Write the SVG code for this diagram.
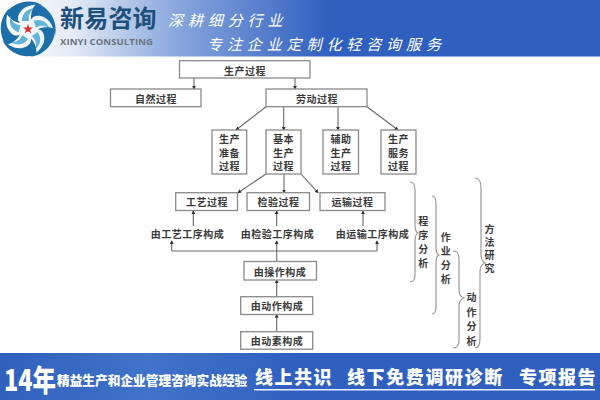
<svg xmlns="http://www.w3.org/2000/svg" xmlns:xlink="http://www.w3.org/1999/xlink" width="600" height="400" viewBox="0 0 600 400">
<style>
text{font-family:"Noto Sans CJK SC","Liberation Sans",sans-serif}
.b{fill:#fff;stroke:#8a8a8a;stroke-width:1.3}
.t{font-size:10px;font-weight:700;fill:#3a3a3a;text-anchor:middle;letter-spacing:.5px;dominant-baseline:central}
.v{font-size:10px;font-weight:700;fill:#3a3a3a;text-anchor:middle;writing-mode:vertical-rl}
.c{fill:none;stroke:#6a6a6a;stroke-width:1.1}
.a{marker-end:url(#ah)}
.br{fill:none;stroke:#9a9a9a;stroke-width:1.2}
.s{font-size:15px;fill:#fff;font-style:italic;letter-spacing:4.900px;dominant-baseline:central}
.f{fill:#fff;font-weight:900;dominant-baseline:central}
</style>
<defs>
<linearGradient id="hd" x1="0" x2="1" y1="0" y2="0"><stop offset="0" stop-color="#fff"/><stop offset=".12" stop-color="#e4ebf6"/><stop offset=".3" stop-color="#86a5dc"/><stop offset=".55" stop-color="#2f5fbf"/><stop offset="1" stop-color="#2f5fbf"/></linearGradient>
<linearGradient id="ft" x1="0" x2="1" y1="0" y2="0"><stop offset="0" stop-color="#3160bd"/><stop offset=".25" stop-color="#4073c9"/><stop offset=".5" stop-color="#2f5fbf"/><stop offset="1" stop-color="#2f5fbf"/></linearGradient>
<marker id="ah" markerWidth="4" markerHeight="4" refX="3.2" refY="2" orient="auto" markerUnits="userSpaceOnUse"><path d="M0,0L4,2L0,4Z" fill="#333"/></marker>
<g id="pt">
<path d="M-22,-16C-14,-27 2,-31 14,-24C4,-25 -5,-23 -9,-15C-11,-11 -10,-8 -8,-6C-14,-7 -19,-11 -22,-16Z" fill="#1c6fa8"/>
<path d="M-6,-8C-6,-15 -2,-20 7,-21C2,-18 0,-14 1,-8Z" fill="#62b3d8"/>
</g>
</defs>
<rect width="600" height="400" fill="#fff"/>
<g id="header">
<rect width="600" height="56.500" fill="url(#hd)"/>
<g id="logo" transform="translate(28,29)">
<use xlink:href="#pt"/><use xlink:href="#pt" transform="rotate(72)"/><use xlink:href="#pt" transform="rotate(144)"/><use xlink:href="#pt" transform="rotate(216)"/><use xlink:href="#pt" transform="rotate(288)"/>
<path d="M0,-5L1.300,-1.600L5,-1.500L2.100,.7L3.100,4.200L0,2.200L-3.100,4.200L-2.100,.7L-5,-1.500L-1.300,-1.600Z" fill="#d0342c"/>
</g>
<text x="60" y="16.500" font-size="24" font-weight="700" fill="#1d4f7c" letter-spacing=".2" dominant-baseline="central">新易咨询</text>
<text x="60" y="41" font-size="9.500" font-weight="700" fill="#6a7480" style="font-family:'Open Sans','Liberation Sans',sans-serif" textLength="93" dominant-baseline="central">XINYI CONSULTING</text>
<text class="s" x="168" y="19">深耕细分行业</text>
<text class="s" x="207" y="43">专注企业定制化轻咨询服务</text>
</g>
<g id="connectors">
<path class="c a" d="M194,78V89"/><path class="c a" d="M295,78V89"/>
<path class="c a" d="M266,106.700L236,130"/><path class="c a" d="M283.700,106.700V130"/><path class="c a" d="M338,106.700V130"/><path class="c a" d="M367,106.700L398,130"/>
<path class="c a" d="M266,174L238,192.700"/><path class="c a" d="M284,174V192.700"/><path class="c a" d="M301,174L318,192.700"/>
<path class="c a" d="M193.300,226V211"/><path class="c a" d="M276.700,226V211"/><path class="c a" d="M363,226V211"/>
<path class="c" d="M171.700,251H377"/><path class="c a" d="M171.700,251V241"/><path class="c a" d="M377,251V241"/><path class="c a" d="M276.700,261.500V241"/>
<path class="c a" d="M276.700,296.700V280"/><path class="c a" d="M276.700,331.700V314.500"/>
</g>
<g id="n1"><rect class="b" x="179.500" y="60.700" width="130.500" height="17.300"/><text class="t" x="245" y="70">生产过程</text></g>
<g id="n2"><rect class="b" x="110.500" y="89" width="90.500" height="17.700"/><text class="t" x="156" y="98">自然过程</text></g>
<g id="n3"><rect class="b" x="266" y="89" width="101" height="17.700"/><text class="t" x="317" y="98">劳动过程</text></g>
<g id="n4"><rect class="b" x="212" y="130" width="34.700" height="44"/><text class="t" x="229.500" y="138.500">生产</text><text class="t" x="229.500" y="152">准备</text><text class="t" x="229.500" y="165.500">过程</text></g>
<g id="n5"><rect class="b" x="266" y="130" width="35" height="44"/><text class="t" x="283.500" y="138.500">基本</text><text class="t" x="283.500" y="152">生产</text><text class="t" x="283.500" y="165.500">过程</text></g>
<g id="n6"><rect class="b" x="323" y="130" width="35.500" height="44"/><text class="t" x="341" y="138.500">辅助</text><text class="t" x="341" y="152">生产</text><text class="t" x="341" y="165.500">过程</text></g>
<g id="n7"><rect class="b" x="381" y="130" width="35" height="44"/><text class="t" x="398.500" y="138.500">生产</text><text class="t" x="398.500" y="152">服务</text><text class="t" x="398.500" y="165.500">过程</text></g>
<g id="n8"><rect class="b" x="175.700" y="192.700" width="61.800" height="17.800"/><text class="t" x="207" y="201.500">工艺过程</text></g>
<g id="n9"><rect class="b" x="247" y="192.700" width="62.500" height="17.800"/><text class="t" x="278.500" y="201.500">检验过程</text></g>
<g id="n10"><rect class="b" x="320" y="192.700" width="65" height="17.800"/><text class="t" x="352.500" y="201.500">运输过程</text></g>
<g id="n11"><text class="t" x="187.500" y="233">由工艺工序构成</text></g>
<g id="n12"><text class="t" x="277.500" y="233">由检验工序构成</text></g>
<g id="n13"><text class="t" x="372.500" y="233">由运输工序构成</text></g>
<g id="n14"><rect class="b" x="244" y="261.500" width="72.500" height="18.500"/><text class="t" x="280" y="271">由操作构成</text></g>
<g id="n15"><rect class="b" x="240.700" y="296.700" width="72" height="17.800"/><text class="t" x="277" y="305.500">由动作构成</text></g>
<g id="n16"><rect class="b" x="240.700" y="331.700" width="72" height="17.500"/><text class="t" x="277" y="340.500">由动素构成</text></g>
<g id="braces">
<path class="br" d="M410,182C414,182 415,185 415,190V225C415,230 416,232 418,233C416,234 415,236 415,241V274C415,279 414,282 410,282"/>
<path class="br" d="M432,196C435,196 436,199 436,204V248C436,252 437,254 439,255C437,256 436,258 436,262V306C436,311 435,314 432,314"/>
<path class="br" d="M453,251C457,251 459,254 459,259V290C459,295 461,297 464,298C461,299 459,301 459,306V340C459,345 457,348 453,348"/>
<path class="br" d="M475,178C479,178 481,182 481,188V254C481,259 482,261 485,263C482,264 480,267 480,272V338C480,344 478,348 475,348"/>
<text class="v" x="423.300" y="244" letter-spacing="4">程序分析</text>
<text class="v" x="445.700" y="260" letter-spacing="4">作业分析</text>
<text class="v" x="471.500" y="321.500" letter-spacing="4.500">动作分析</text>
<text class="v" x="489.500" y="250.500" letter-spacing="3">方法研究</text>
</g>
<g id="footer">
<rect y="353" width="600" height="47" fill="url(#ft)"/>
<text class="f" x="4" y="378" font-size="30" textLength="52" lengthAdjust="spacingAndGlyphs">14年</text>
<text class="f" x="57" y="379" font-size="12.700">精益生产和企业管理咨询实战经验</text>
<text class="f" x="255" y="375.500" font-size="18" letter-spacing="1.500">线上共识</text>
<text class="f" x="347" y="375.500" font-size="18" letter-spacing="1.600">线下免费调研诊断</text>
<text class="f" x="519" y="375.500" font-size="18" letter-spacing="1.500">专项报告</text>
<rect x="254" y="389" width="341" height="1.500" fill="#e8eefa"/>
</g>
</svg>
